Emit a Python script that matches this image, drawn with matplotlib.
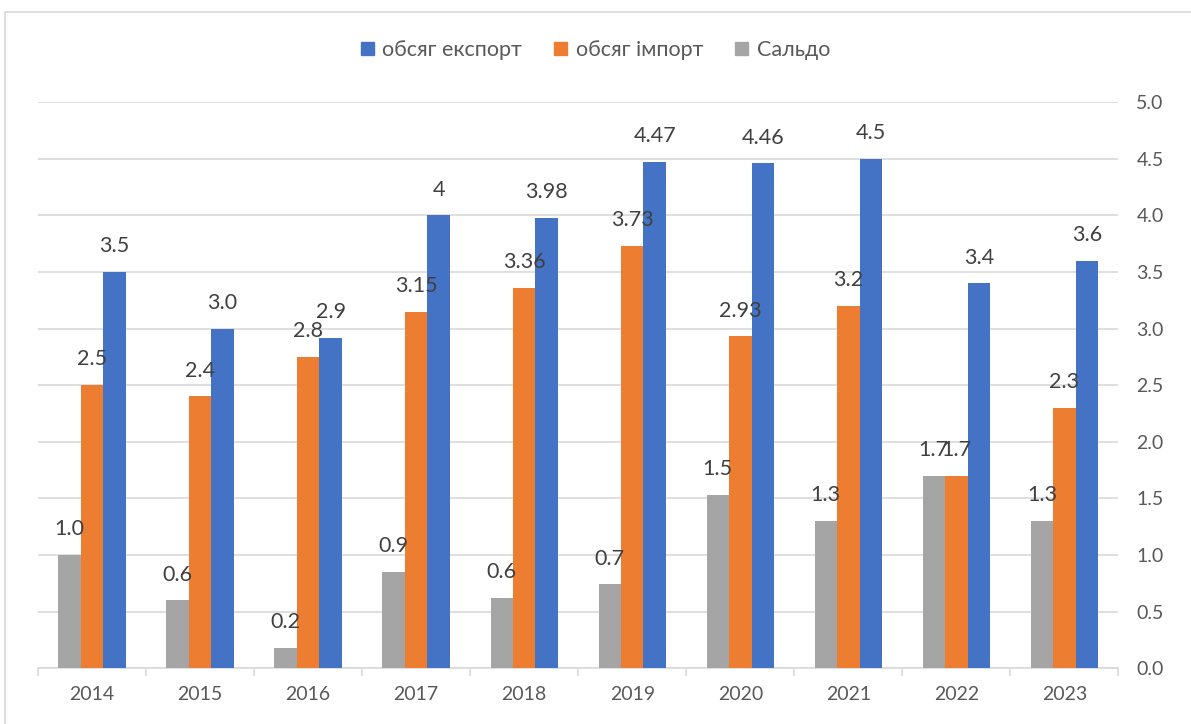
import matplotlib
matplotlib.use("Agg")
import matplotlib.pyplot as plt
from matplotlib.patches import Rectangle, Patch
import numpy as np

plt.rcParams['font.family'] = ['Lato', 'DejaVu Sans']

years = ["2014", "2015", "2016", "2017", "2018", "2019", "2020", "2021", "2022", "2023"]
export_vals = [3.5, 3.0, 2.92, 4.0, 3.98, 4.47, 4.46, 4.5, 3.4, 3.6]
import_vals = [2.5, 2.4, 2.75, 3.15, 3.36, 3.73, 2.93, 3.2, 1.7, 2.3]
saldo_vals = [1.0, 0.6, 0.18, 0.85, 0.62, 0.74, 1.53, 1.3, 1.7, 1.3]
export_labels = ["3.5", "3.0", "2.9", "4", "3.98", "4.47", "4.46", "4.5", "3.4", "3.6"]
import_labels = ["2.5", "2.4", "2.8", "3.15", "3.36", "3.73", "2.93", "3.2", "1.7", "2.3"]
saldo_labels = ["1.0", "0.6", "0.2", "0.9", "0.6", "0.7", "1.5", "1.3", "1.7", "1.3"]
series_names = ["обсяг експорт", "обсяг імпорт", "Сальдо"]

c_exp = "#4472C4"
c_imp = "#ED7D31"
c_sal = "#A5A5A5"

fig = plt.figure(figsize=(11.91, 7.24), dpi=100)
ax = fig.add_axes([0.032, 0.077, 0.907, 0.782])

x = np.arange(len(years))
w = 0.208
series = [(saldo_vals, saldo_labels, c_sal, -w),
          (import_vals, import_labels, c_imp, 0.0),
          (export_vals, export_labels, c_exp, w)]
for vals, labs, col, off in series:
    bars = ax.bar(x + off, vals, width=w, color=col, zorder=3)
    for b, lab in zip(bars, labs):
        ax.annotate(lab, (b.get_x() + b.get_width() / 2, b.get_height()),
                    xytext=(0, 18.5), textcoords="offset points",
                    ha="center", va="center", fontsize=15.5, color="#404040", zorder=4)

ax.set_xlim(-0.5, len(years) - 0.5)
ax.set_ylim(0, 5.0)
ax.set_yticks(np.arange(0, 5.01, 0.5))
ax.set_yticklabels([f"{v:.1f}" for v in np.arange(0, 5.01, 0.5)])
ax.yaxis.tick_right()
ax.tick_params(axis="y", length=0, labelsize=14, labelcolor="#595959", pad=13)
ax.grid(axis="y", color="#D9D9D9", linewidth=1.2, zorder=0)
ax.set_axisbelow(True)

ax.set_xticks(x)
ax.set_xticklabels(years)
ax.tick_params(axis="x", which="major", length=0, labelsize=14, labelcolor="#595959", pad=13)
ax.set_xticks(np.arange(-0.5, len(years), 1.0), minor=True)
ax.tick_params(axis="x", which="minor", length=6, color="#D9D9D9", width=1.2)

for s in ["top", "right", "left"]:
    ax.spines[s].set_visible(False)
ax.spines["bottom"].set_color("#D9D9D9")
ax.spines["bottom"].set_linewidth(1.2)

handles = [Patch(color=c_exp), Patch(color=c_imp), Patch(color=c_sal)]
fig.legend(handles, series_names, loc="center", bbox_to_anchor=(0.50, 0.931),
           ncol=3, frameon=False, fontsize=15.5, labelcolor="#595959",
           handlelength=0.6, handleheight=0.6, handletextpad=0.4, columnspacing=1.5)

fig.patches.append(Rectangle((0.004, -0.02), 1.1, 1.003, transform=fig.transFigure,
                             fill=False, edgecolor="#D9D9D9", linewidth=1.2))

fig.savefig("out.png", dpi=100)
